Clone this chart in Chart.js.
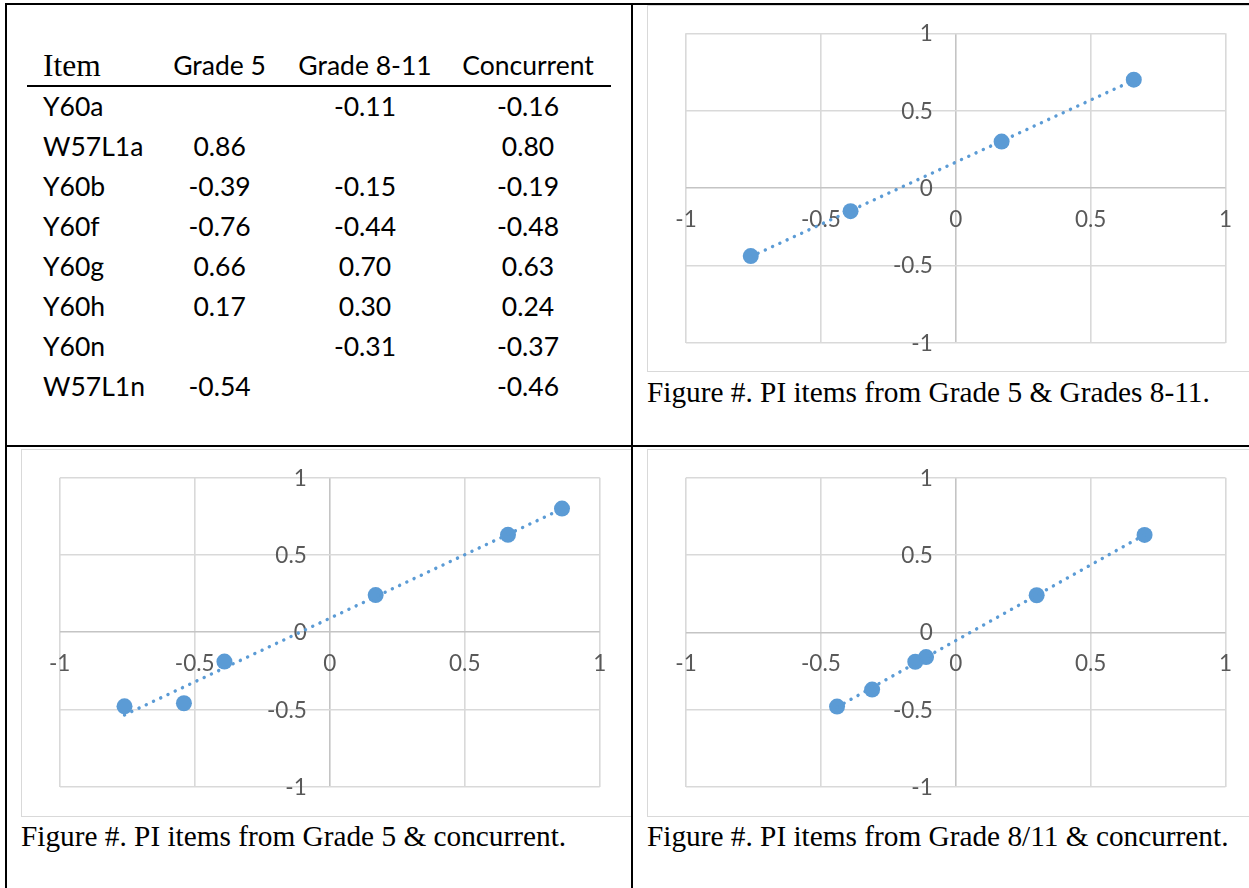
<!DOCTYPE html>
<html>
<head>
<meta charset="utf-8">
<script src="https://cdn.jsdelivr.net/npm/chart.js@4"></script>
<style>
  html, body { margin: 0; padding: 0; background: #fff; }
  body { width: 1249px; height: 888px; position: relative; overflow: hidden; }
  .bl { position: absolute; background: #000; }
  .box { position: absolute; border: 1px solid #d9d9d9; border-right: none; box-sizing: border-box; }
  canvas { position: absolute; }
  .t { position: absolute; white-space: nowrap; color: #000; line-height: 1; }
  .cal { font-family: Lato, "Open Sans", sans-serif; }
  .ser { font-family: "Liberation Serif", "Times New Roman", serif; }
  .cap { font-family: "Liberation Serif", "Times New Roman", serif; font-size: 29.3px; }
</style>
</head>
<body>
<!-- table grid lines -->
<div class="bl" style="left:5px;top:3px;width:1244px;height:2px;"></div>
<div class="bl" style="left:5px;top:3px;width:2px;height:885px;"></div>
<div class="bl" style="left:631px;top:3px;width:2px;height:885px;"></div>
<div class="bl" style="left:5px;top:445px;width:1244px;height:2px;"></div>

<div id="table"></div>

<div class="box" style="left:647px;top:5px;width:602px;height:367px;"></div>
<canvas id="c1" width="602" height="367" style="left:647px;top:5px;"></canvas>
<div class="t cap" style="left:647px;top:378px;">Figure #. PI items from Grade 5 &amp; Grades 8-11.</div>

<div class="box" style="left:21px;top:449px;width:610px;height:368px;"></div>
<canvas id="c2" width="610" height="368" style="left:21px;top:449px;"></canvas>
<div class="t cap" style="left:21px;top:822px;">Figure #. PI items from Grade 5 &amp; concurrent.</div>

<div class="box" style="left:647px;top:449px;width:602px;height:368px;"></div>
<canvas id="c3" width="602" height="368" style="left:647px;top:449px;"></canvas>
<div class="t cap" style="left:647px;top:822px;">Figure #. PI items from Grade 8/11 &amp; concurrent.</div>

<script>
// ---- data ----
const items      = ['Y60a', 'W57L1a', 'Y60b', 'Y60f', 'Y60g', 'Y60h', 'Y60n', 'W57L1n'];
const grade5     = [null, 0.86, -0.39, -0.76, 0.66, 0.17, null, -0.54];
const grade811   = [-0.11, null, -0.15, -0.44, 0.70, 0.30, -0.31, null];
const concurrent = [-0.16, 0.80, -0.19, -0.48, 0.63, 0.24, -0.37, -0.46];
const headers    = ['Item', 'Grade 5', 'Grade 8-11', 'Concurrent'];
const tickValues = [-1, -0.5, 0, 0.5, 1];
const tickLabels = ['-1', '-0.5', '0', '0.5', '1'];

// ---- table ----
const table = document.getElementById('table');
const colCenters = [219.6, 365, 528];
const TFS = 26.5;
function addText(txt, cls, x, baseline, fs, ascentFactor, align) {
  const d = document.createElement('div');
  d.className = 't ' + cls;
  d.textContent = txt;
  d.style.fontSize = fs + 'px';
  d.style.top = (baseline - ascentFactor * fs) + 'px';
  if (align === 'center') { d.style.left = (x - 200) + 'px'; d.style.width = '400px'; d.style.textAlign = 'center'; }
  else d.style.left = x + 'px';
  table.appendChild(d);
}
const LATO_A = 0.887, SER_A = 0.8375;
addText(headers[0], 'ser', 43, 76, 31.5, SER_A, 'left');
for (let i = 1; i < 4; i++) addText(headers[i], 'cal', colCenters[i - 1], 75.5, TFS, LATO_A, 'center');
const ul = document.createElement('div');
ul.className = 'bl'; ul.style.cssText = 'left:27px;top:85px;width:584px;height:2px;';
table.appendChild(ul);
const cols = [grade5, grade811, concurrent];
items.forEach((it, r) => {
  const base = 116.5 + r * 40;
  addText(it, 'cal', 43, base, TFS, LATO_A, 'left');
  cols.forEach((col, c) => {
    if (col[r] !== null) addText(col[r].toFixed(2), 'cal', colCenters[c], base, TFS, LATO_A, 'center');
  });
});

// ---- charts ----
function pairs(xs, ys) {
  const out = [];
  for (let i = 0; i < xs.length; i++) if (xs[i] !== null && ys[i] !== null) out.push({ x: xs[i], y: ys[i] });
  return out;
}
// least-squares trendline (Excel linear trendline) spanning the data's x range
function trend(pts) {
  const n = pts.length;
  const mx = pts.reduce((s, p) => s + p.x, 0) / n;
  const my = pts.reduce((s, p) => s + p.y, 0) / n;
  let sxy = 0, sxx = 0;
  pts.forEach(p => { sxy += (p.x - mx) * (p.y - my); sxx += (p.x - mx) * (p.x - mx); });
  const b = sxy / sxx, a = my - b * mx;
  const x0 = Math.min(...pts.map(p => p.x)), x1 = Math.max(...pts.map(p => p.x));
  return [{ x: x0, y: a + b * x0 }, { x: x1, y: a + b * x1 }];
}
const tickLabelPlugin = {
  id: 'excelTicks',
  beforeDatasetsDraw(chart) {
    const ctx = chart.ctx, xs = chart.scales.x, ys = chart.scales.y;
    const x0 = xs.getPixelForValue(0), y0 = ys.getPixelForValue(0);
    const fs = 22.5;
    ctx.save();
    ctx.font = fs + 'px Lato, "Open Sans", sans-serif';
    ctx.fillStyle = '#595959';
    ctx.textBaseline = 'alphabetic';
    ctx.textAlign = 'right';
    tickValues.forEach((v, i) => ctx.fillText(tickLabels[i], x0 - 23, ys.getPixelForValue(v) + 0.36 * fs));
    ctx.textAlign = 'center';
    tickValues.forEach((v, i) => ctx.fillText(tickLabels[i], xs.getPixelForValue(v), y0 + 31 + 0.36 * fs));
    ctx.restore();
  }
};
function axisOpts() {
  return {
    type: 'linear', min: -1, max: 1,
    ticks: { display: false, stepSize: 0.5 },
    grid: { color: c => (c.tick && c.tick.value === 0) ? '#c4c4c4' : '#d9d9d9', lineWidth: 1.6, drawTicks: false },
    border: { display: false }
  };
}
function build(id, xs, ys, pad) {
  const pts = pairs(xs, ys);
  new Chart(document.getElementById(id), {
    type: 'scatter',
    data: {
      datasets: [
        { data: pts, pointRadius: 8, pointHoverRadius: 8, backgroundColor: '#5b9bd5', borderColor: '#5b9bd5', borderWidth: 0, order: 2 },
        { type: 'line', data: trend(pts), showLine: true, pointRadius: 0, borderColor: '#5b9bd5', borderWidth: 3.4,
          borderDash: [0.1, 7.9], borderCapStyle: 'round', fill: false, order: 1 }
      ]
    },
    options: {
      responsive: false, animation: false, devicePixelRatio: 1,
      layout: { padding: pad },
      plugins: { legend: { display: false }, tooltip: { enabled: false } },
      scales: { x: axisOpts(), y: axisOpts() }
    },
    plugins: [tickLabelPlugin]
  });
}
build('c1', grade5, grade811, { left: 39, right: 23.5, top: 28.3, bottom: 29.3 });
build('c2', grade5, concurrent, { left: 38.7, right: 31.2, top: 28.7, bottom: 30.3 });
build('c3', grade811, concurrent, { left: 39, right: 23.5, top: 28.7, bottom: 30 });
</script>
</body>
</html>
